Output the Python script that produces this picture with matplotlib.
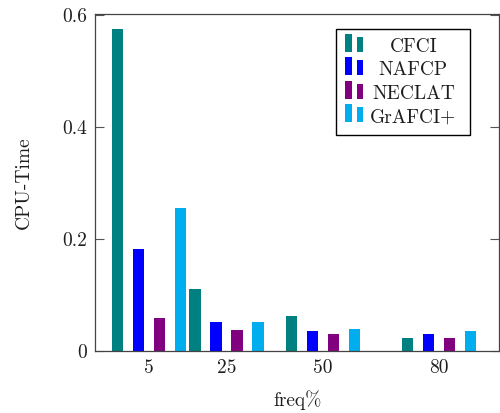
from matplotlib import pyplot as plt
from matplotlib.legend_handler import HandlerBase
from matplotlib.patches import Rectangle
from matplotlib.text import Text
import numpy as np

plt.rcParams['font.family'] = 'serif'
plt.rcParams['font.serif'] = ['cmr10', 'DejaVu Serif']
plt.rcParams['axes.formatter.use_mathtext'] = True

freq = [5, 25, 50, 80]
cfci = [0.576, 0.110, 0.062, 0.024]
nafcp = [0.182, 0.051, 0.035, 0.030]
neclat = [0.059, 0.038, 0.030, 0.023]
grafci = [0.256, 0.051, 0.040, 0.035]

names = ['CFCI', 'NAFCP', 'NECLAT', 'GrAFCI+']
colors = ['#008080', '#0000ff', '#800080', '#00aeef']
txt = '#1e1e1e'


# pgfplots-like ybar legend: two small bars with the label centred next to them
class BarLegend(HandlerBase):
    def __init__(self, label):
        super().__init__()
        self.label = label

    def create_artists(self, legend, orig_handle, xdescent, ydescent,
                       width, height, fontsize, trans):
        c = orig_handle.get_facecolor()
        b1 = Rectangle((0, 0), 5, 13, facecolor=c, edgecolor='none', transform=trans)
        b2 = Rectangle((8.6, 0), 5, 10.8, facecolor=c, edgecolor='none', transform=trans)
        t = Text(49.5, 0, self.label, ha='center', va='baseline',
                 fontsize=fontsize, color=txt, transform=trans)
        return [b1, b2, t]


def run():
    fig = plt.figure(figsize=(5, 4.13), dpi=100)
    ax = fig.add_axes([0.19, 0.15, 0.8086, 0.816])

    x = np.array(freq)
    w = 3.0
    step = 5.43
    series = [cfci, nafcp, neclat, grafci]
    bars = []
    for i, vals in enumerate(series):
        b = ax.bar(x + (i - 1.5) * step, vals, width=w, color=colors[i],
                   label=names[i], zorder=2)
        bars.append(b[0])

    ax.set_xlim(-8.97, 95.6)
    ax.set_ylim(0, 0.602)
    ax.set_xticks(freq)
    ax.set_xticklabels([str(f) for f in freq])
    ax.set_yticks([0, 0.2, 0.4, 0.6])
    ax.set_yticklabels(['0', '0.2', '0.4', '0.6'])
    ax.tick_params(axis='x', length=0, pad=6, labelsize=14, colors=txt)
    ax.tick_params(axis='y', direction='in', length=6.5, width=0.8, pad=5.8,
                   labelsize=14, right=True, color='#555555', labelcolor=txt)
    for s in ax.spines.values():
        s.set_color('#444444')
        s.set_linewidth(0.9)

    ax.set_xlabel('freq%', fontsize=14, color=txt)
    ax.set_ylabel('CPU-Time', fontsize=14, color=txt)
    ax.xaxis.set_label_coords(0.5, -0.145)
    ax.xaxis.label.set_va('center')
    ax.yaxis.set_label_coords(-0.177, 0.5)
    ax.yaxis.label.set_va('center')

    handler = {bars[i]: BarLegend(names[i]) for i in range(4)}
    leg = ax.legend(bars, ['', '', '', ''], handler_map=handler,
                    loc='upper right', bbox_to_anchor=(0.9275, 0.9555),
                    borderaxespad=0, fontsize=14, handlelength=6.0,
                    handletextpad=0, labelspacing=0.286, borderpad=0.45,
                    fancybox=False, framealpha=1, edgecolor='black')
    leg.get_frame().set_linewidth(1.0)

    plt.savefig('out.png', dpi=100)


if __name__ == '__main__':
    run()
